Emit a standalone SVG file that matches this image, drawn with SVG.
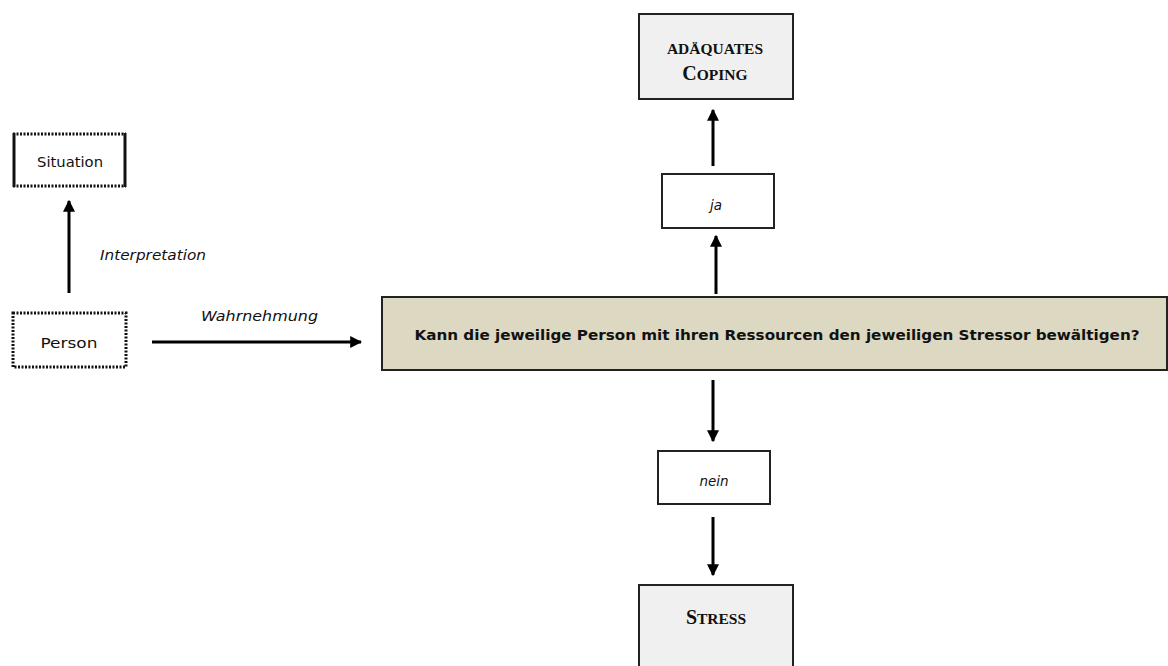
<svg xmlns="http://www.w3.org/2000/svg" width="1168" height="666" viewBox="0 0 1168 666">
  <style>
    .sans { font-family: "DejaVu Sans", Verdana, sans-serif; font-size: 13.5px; fill: #111; }
    .ital { font-style: italic; }
    .serif { font-family: "Liberation Serif", "Times New Roman", serif; font-weight: bold; fill: #111; }
    .q { font-family: "DejaVu Sans", Verdana, sans-serif; font-weight: bold; font-size: 13.5px; fill: #111; }
    .box { fill: #ffffff; stroke: #222; stroke-width: 2; }
    .grey { fill: #f0f0f0; stroke: #222; stroke-width: 2; }
    .dot { fill: none; stroke: #111; stroke-width: 3; stroke-dasharray: 2 1.5; }
    .solid { fill: none; stroke: #111; stroke-width: 3; }
    .conn { stroke: #000; stroke-width: 3; fill: none; marker-end: url(#head); }
  </style>
  <defs>
    <marker id="head" viewBox="0 0 10 10" refX="9" refY="5" markerWidth="4" markerHeight="4" orient="auto" markerUnits="strokeWidth">
      <path d="M0,0 L10,5 L0,10 Z" fill="#000"/>
    </marker>
  </defs>

  <rect width="1168" height="666" fill="#ffffff"/>

  <!-- connectors -->
  <g id="connectors">
    <line class="conn" x1="69" y1="293" x2="69" y2="201"/>
    <line class="conn" x1="152" y1="342" x2="361" y2="342"/>
    <line class="conn" x1="716" y1="294" x2="716" y2="236"/>
    <line class="conn" x1="713" y1="166" x2="713" y2="110"/>
    <line class="conn" x1="713" y1="380" x2="713" y2="441"/>
    <line class="conn" x1="713" y1="517" x2="713" y2="575"/>
    <text class="sans ital" x="100" y="260" textLength="106" lengthAdjust="spacingAndGlyphs">Interpretation</text>
    <text class="sans ital" x="201" y="321" textLength="117" lengthAdjust="spacingAndGlyphs">Wahrnehmung</text>
  </g>

  <!-- Situation: dotted top and bottom, solid sides -->
  <g id="situation">
    <line class="dot" x1="13" y1="134" x2="126" y2="134"/>
    <line class="dot" x1="13" y1="186" x2="126" y2="186"/>
    <line class="solid" x1="14" y1="133" x2="14" y2="187"/>
    <line class="solid" x1="125" y1="133" x2="125" y2="187"/>
    <text class="sans" x="70" y="167" text-anchor="middle" textLength="66" lengthAdjust="spacingAndGlyphs">Situation</text>
  </g>

  <!-- Person: dotted all round -->
  <g id="person">
    <rect class="dot" x="13" y="313" width="113" height="54"/>
    <text class="sans" x="69" y="348" text-anchor="middle" textLength="57" lengthAdjust="spacingAndGlyphs">Person</text>
  </g>

  <!-- central question -->
  <g id="question">
    <rect x="382" y="297" width="785" height="73" fill="#dcd8c1" stroke="#222" stroke-width="2"/>
    <text class="q" x="777" y="340" text-anchor="middle" textLength="725" lengthAdjust="spacingAndGlyphs">Kann die jeweilige Person mit ihren Ressourcen den jeweiligen Stressor bewältigen?</text>
  </g>

  <g id="ja">
    <rect class="box" x="662" y="174" width="112" height="54"/>
    <text class="sans ital" x="716" y="210" text-anchor="middle">ja</text>
  </g>

  <g id="coping">
    <rect class="grey" x="639" y="14" width="154" height="85"/>
    <text class="serif" x="715" y="54" text-anchor="middle" font-size="15.5">ADÄQUATES</text>
    <text class="serif" x="715" y="80" text-anchor="middle" font-size="15.5"><tspan font-size="20">C</tspan>OPING</text>
  </g>

  <g id="nein">
    <rect class="box" x="658" y="451" width="112" height="53"/>
    <text class="sans ital" x="714" y="486" text-anchor="middle">nein</text>
  </g>

  <g id="stress">
    <rect class="grey" x="639" y="585" width="154" height="90"/>
    <text class="serif" x="716" y="624" text-anchor="middle" font-size="15.5"><tspan font-size="20">S</tspan>TRESS</text>
  </g>
</svg>
